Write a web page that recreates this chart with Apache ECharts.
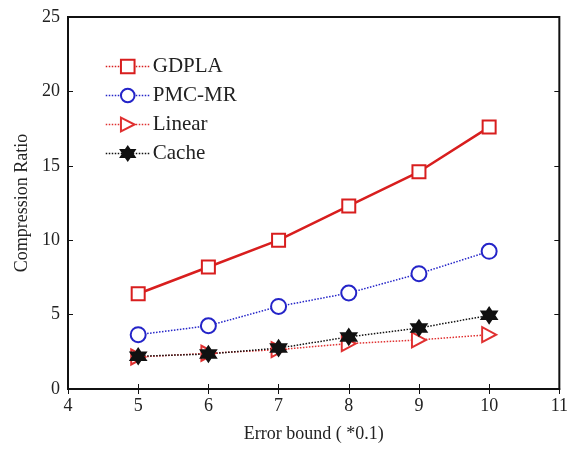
<!DOCTYPE html>
<html>
	<head>
		<meta charset="utf-8" />
		<title>Compression Ratio</title>
		<script src="https://cdn.jsdelivr.net/npm/echarts@6/dist/echarts.min.js"></script>
		<style>
			body { margin: 0; background: #fff; }
			#main { width: 571px; height: 449px; }
		</style>
	</head>
	<body>
		<div id="main"></div>
	<script>
	// data
	var errorBound = [5, 6, 7, 8, 9, 10];
	var gdpla = [6.4, 8.2, 10.0, 12.3, 14.6, 17.6];
	var pmcmr = [3.65, 4.25, 5.55, 6.45, 7.75, 9.25];
	var linear = [2.15, 2.4, 2.65, 3.05, 3.3, 3.65];
	var cache = [2.2, 2.35, 2.75, 3.5, 4.1, 4.95];
	var xTicks = [4, 5, 6, 7, 8, 9, 10, 11];
	var yTicks = [0, 5, 10, 15, 20, 25];

	var serif = 'Liberation Serif';
	var triRight = 'path://M0,0 L10,6 L0,12 Z';
	var hexStar = 'path://M5,0 L6.44,2.5 L9.33,2.5 L7.89,5 L9.33,7.5 L6.44,7.5 L5,10 L3.56,7.5 L0.67,7.5 L2.11,5 L0.67,2.5 L3.56,2.5 Z';

	function pairs(ys){
		return errorBound.map(function(x, i){ return [x, ys[i]]; });
	}

	function mkSeries(name, ys, color, lineType, width, symbol, size, fill){
		return {
			name: name,
			type: 'line',
			data: pairs(ys),
			symbol: symbol,
			symbolSize: size,
			showAllSymbol: true,
			lineStyle: { color: color, width: width, type: lineType },
			itemStyle: { color: fill, borderColor: color, borderWidth: 2 },
			emphasis: { disabled: true },
			z: 3
		};
	}

	var chart = echarts.init(document.getElementById('main'));

	var axisText = { color: '#222', fontFamily: serif, fontSize: 18 };

	var option = {
		backgroundColor: '#fff',
		animation: false,
		grid: {
			left: 68, right: 11, top: 17, bottom: 60,
			show: true, borderColor: '#111', borderWidth: 2, backgroundColor: 'transparent'
		},
		legend: {
			left: 100, top: 51,
			orient: 'vertical',
			itemWidth: 44, itemHeight: 17, itemGap: 8,
			lineStyle: { type: 'dotted', width: 1.5 },
			textStyle: { color: '#222', fontFamily: serif, fontSize: 21, padding: [0, 0, 0, -2] },
			data: ['GDPLA', 'PMC-MR', 'Linear', 'Cache']
		},
		xAxis: [{
			type: 'value', min: xTicks[0], max: xTicks[xTicks.length - 1], interval: 1,
			name: 'Error bound ( *0.1)', nameLocation: 'middle', nameGap: 36,
			nameTextStyle: { color: '#222', fontFamily: serif, fontSize: 18 },
			axisLine: { show: true, lineStyle: { color: '#111', width: 2 } },
			axisTick: { show: true, inside: true, length: 5, lineStyle: { color: '#111' } },
			axisLabel: axisText, splitLine: { show: false }
		}, {
			type: 'value', position: 'top', min: xTicks[0], max: xTicks[xTicks.length - 1], interval: 1,
			axisLine: { show: false },
			axisTick: { show: true, inside: true, length: 5, lineStyle: { color: '#111' } },
			axisLabel: { show: false }, splitLine: { show: false }
		}],
		yAxis: [{
			type: 'value', min: yTicks[0], max: yTicks[yTicks.length - 1], interval: 5,
			name: 'Compression Ratio', nameLocation: 'middle', nameGap: 36,
			nameTextStyle: { color: '#222', fontFamily: serif, fontSize: 18 },
			axisLine: { show: true, lineStyle: { color: '#111', width: 2 } },
			axisTick: { show: true, inside: true, length: 5, lineStyle: { color: '#111' } },
			axisLabel: axisText, splitLine: { show: false }
		}, {
			type: 'value', position: 'right', min: yTicks[0], max: yTicks[yTicks.length - 1], interval: 5,
			axisLine: { show: false },
			axisTick: { show: true, inside: true, length: 5, lineStyle: { color: '#111' } },
			axisLabel: { show: false }, splitLine: { show: false }
		}],
		series: [
			mkSeries('GDPLA', gdpla, '#d81e1e', 'solid', 2.5, 'rect', 13, '#fff'),
			mkSeries('PMC-MR', pmcmr, '#2424c8', 'dotted', 1.5, 'circle', 15, '#fff'),
			mkSeries('Linear', linear, '#e03030', 'dotted', 1.5, triRight, [14, 15], '#fff'),
			mkSeries('Cache', cache, '#111', 'dotted', 1.5, hexStar, 15, '#111')
		]
	};

	chart.setOption(option);
	</script>
	</body>
</html>
